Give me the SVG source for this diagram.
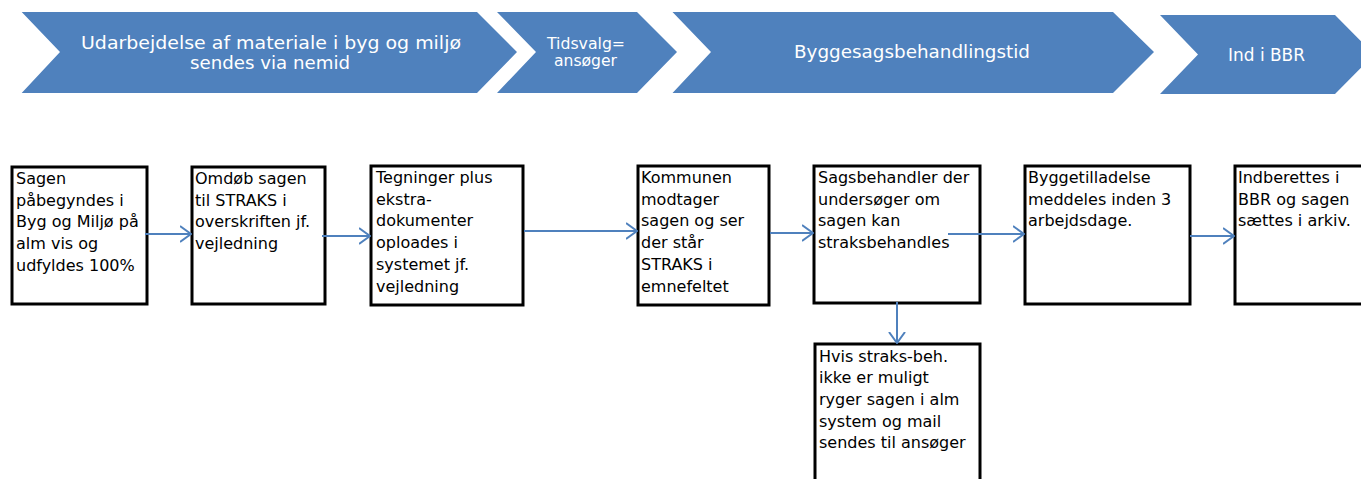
<svg xmlns="http://www.w3.org/2000/svg" width="1361" height="479" viewBox="0 0 1361 479">
<style>
.chev{fill:#4F81BD;}
.ct{fill:#fff;font-family:"DejaVu Sans","Verdana",sans-serif;text-anchor:middle;}
.box{fill:#fff;stroke:#000;stroke-width:3;}
.bt{fill:#000;font-family:"DejaVu Sans","Verdana",sans-serif;font-size:16px;}
.conn{stroke:#4F81BD;stroke-width:2;fill:none;marker-end:url(#arr);}
</style>
<defs>
<marker id="arr" markerUnits="userSpaceOnUse" viewBox="0 0 12 18" refX="11" refY="9" markerWidth="12" markerHeight="18" orient="auto">
<path d="M0,1 L11,9 L0,17" fill="none" stroke="#4F81BD" stroke-width="2"/>
</marker>
</defs>
<rect width="1361" height="479" fill="#fff"/>
<g id="phase1">
<polygon class="chev" points="21.7,12 477,12 517,52 477,93 21.7,93 60,52"/>
<text class="ct" font-size="18" x="271" y="48.5" textLength="380" lengthAdjust="spacingAndGlyphs">Udarbejdelse af materiale i byg og miljø</text>
<text class="ct" font-size="18" x="270" y="68.5" textLength="160" lengthAdjust="spacingAndGlyphs">sendes via nemid</text>
</g>
<g id="phase2">
<polygon class="chev" points="497,12 637,12 677,52 637,93 497,93 536,52"/>
<text class="ct" font-size="16" x="586" y="49" textLength="78" lengthAdjust="spacingAndGlyphs">Tidsvalg=</text>
<text class="ct" font-size="16" x="585.5" y="65.5" textLength="63" lengthAdjust="spacingAndGlyphs">ansøger</text>
</g>
<g id="phase3">
<polygon class="chev" points="672.5,12 1113,12 1154,52 1113,93 672.5,93 711,52"/>
<text class="ct" font-size="18" x="912" y="58.3" textLength="236" lengthAdjust="spacingAndGlyphs">Byggesagsbehandlingstid</text>
</g>
<g id="phase4">
<polygon class="chev" points="1160,15 1335,15 1374,54.5 1335,94 1160,94 1198,54.5"/>
<text class="ct" font-size="17" x="1266.5" y="60.7" textLength="77" lengthAdjust="spacingAndGlyphs">Ind i BBR</text>
</g>
<g id="box1">
<rect class="box" x="12" y="167" width="135" height="137"/>
<text class="bt" x="16" y="184"><tspan x="16">Sagen</tspan><tspan x="16" dy="21.7">påbegyndes i</tspan><tspan x="16" dy="21.7">Byg og Miljø på</tspan><tspan x="16" dy="21.7">alm vis og</tspan><tspan x="16" dy="21.7">udfyldes 100%</tspan></text>
</g>
<g id="box2">
<rect class="box" x="192" y="167" width="133" height="137"/>
<text class="bt" x="195" y="184"><tspan x="195">Omdøb sagen</tspan><tspan x="195" dy="21.7">til STRAKS i</tspan><tspan x="195" dy="21.7">overskriften jf.</tspan><tspan x="195" dy="21.7">vejledning</tspan></text>
</g>
<g id="box3">
<rect class="box" x="371" y="166" width="152" height="139"/>
<text class="bt" x="376" y="183"><tspan x="376">Tegninger plus</tspan><tspan x="376" dy="21.7">ekstra-</tspan><tspan x="376" dy="21.7">dokumenter</tspan><tspan x="376" dy="21.7">oploades i</tspan><tspan x="376" dy="21.7">systemet jf.</tspan><tspan x="376" dy="21.7">vejledning</tspan></text>
</g>
<g id="box4">
<rect class="box" x="638" y="166" width="131" height="139"/>
<text class="bt" x="641" y="183"><tspan x="641">Kommunen</tspan><tspan x="641" dy="21.7">modtager</tspan><tspan x="641" dy="21.7">sagen og ser</tspan><tspan x="641" dy="21.7">der står</tspan><tspan x="641" dy="21.7">STRAKS i</tspan><tspan x="641" dy="21.7">emnefeltet</tspan></text>
</g>
<g id="box5">
<rect class="box" x="814" y="166" width="166" height="137"/>
<text class="bt" x="818" y="183"><tspan x="818">Sagsbehandler der</tspan><tspan x="818" dy="21.7">undersøger om</tspan><tspan x="818" dy="21.7">sagen kan</tspan><tspan x="818" dy="21.7">straksbehandles</tspan></text>
</g>
<g id="box6">
<rect class="box" x="1025" y="166" width="165" height="138"/>
<text class="bt" x="1028" y="183"><tspan x="1028">Byggetilladelse</tspan><tspan x="1028" dy="21.7">meddeles inden 3</tspan><tspan x="1028" dy="21.7">arbejdsdage.</tspan></text>
</g>
<g id="box7">
<rect class="box" x="1235" y="166" width="140" height="138"/>
<text class="bt" x="1238" y="183"><tspan x="1238">Indberettes i</tspan><tspan x="1238" dy="21.7">BBR og sagen</tspan><tspan x="1238" dy="21.7">sættes i arkiv.</tspan></text>
</g>
<g id="box8">
<rect class="box" x="815" y="344" width="165" height="150"/>
<text class="bt" x="819" y="361.5"><tspan x="819">Hvis straks-beh.</tspan><tspan x="819" dy="21.7">ikke er muligt</tspan><tspan x="819" dy="21.7">ryger sagen i alm</tspan><tspan x="819" dy="21.7">system og mail</tspan><tspan x="819" dy="21.7">sendes til ansøger</tspan></text>
</g>
<g id="connectors">
<line class="conn" x1="145" y1="234" x2="191" y2="234"/>
<line class="conn" x1="322" y1="236" x2="370" y2="236"/>
<line class="conn" x1="524" y1="231" x2="637" y2="231"/>
<line class="conn" x1="770" y1="233" x2="813" y2="233"/>
<line class="conn" x1="948" y1="234" x2="1024" y2="234"/>
<line class="conn" x1="1190" y1="236" x2="1234" y2="236"/>
<line class="conn" x1="897" y1="302" x2="897" y2="343"/>
</g>
</svg>
